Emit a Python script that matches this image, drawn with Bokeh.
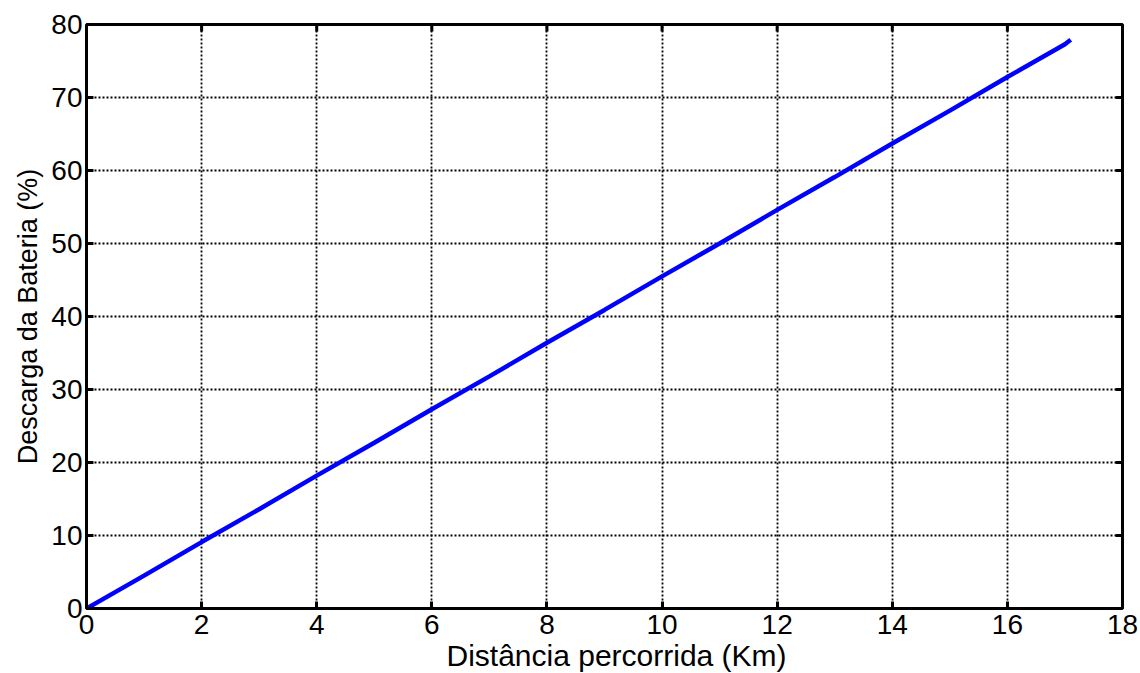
from bokeh.embed import file_html
from bokeh.models import FixedTicker, Range1d, Title
from bokeh.plotting import figure
from bokeh.resources import INLINE

# Battery discharge versus distance travelled
distance_km = [0, 1, 2, 3, 4, 5, 6, 7, 8, 9, 10, 11, 12, 13, 14, 15, 16, 17, 17.1]
discharge_pct = [0, 4.5, 9.1, 13.6, 18.2, 22.7, 27.3, 31.8, 36.4, 40.9, 45.5,
                 50.0, 54.6, 59.1, 63.7, 68.2, 72.8, 77.3, 77.9]

x_ticks = [0, 2, 4, 6, 8, 10, 12, 14, 16, 18]
y_ticks = [0, 10, 20, 30, 40, 50, 60, 70, 80]

X_MIN, X_MAX = 0, 18
Y_MIN, Y_MAX = 0, 80

FONT = "Liberation Sans"
TICK_SIZE = "28px"

p = figure(
    width=1140, height=673,
    x_range=Range1d(X_MIN, X_MAX), y_range=Range1d(Y_MIN, Y_MAX),
    output_backend="svg", toolbar_location=None,
    min_border_left=86, min_border_right=18,
    min_border_top=24, min_border_bottom=65,
    background_fill_color="white", border_fill_color="white",
    y_axis_label="Descarga da Bateria (%)",
)

p.outline_line_color = "black"
p.outline_line_width = 3

# main axes: inward ticks, frame drawn by the outline
for ax, ticks in ((p.xaxis[0], x_ticks), (p.yaxis[0], y_ticks)):
    ax.ticker = FixedTicker(ticks=ticks)
    ax.axis_line_color = None
    ax.major_tick_in = 7
    ax.major_tick_out = 0
    ax.major_tick_line_width = 3
    ax.major_tick_line_color = "black"
    ax.minor_tick_line_color = None
    ax.major_label_text_font = FONT
    ax.major_label_text_font_size = TICK_SIZE
    ax.major_label_text_color = "black"

p.xaxis[0].major_label_standoff = 6
p.yaxis[0].major_label_standoff = 4

yax = p.yaxis[0]
yax.axis_label_standoff = 5
yax.axis_label_text_font = FONT
yax.axis_label_text_font_size = "27px"
yax.axis_label_text_font_style = "normal"
yax.axis_label_text_color = "black"

# x-axis title, placed from the frame's left edge
p.add_layout(Title(
    text="Distância percorrida (Km)", align="left", offset=360, standoff=0,
    text_font=FONT, text_font_size="30px", text_font_style="normal",
    text_color="black",
), "below")

# mirrored inward ticks along the top and right edges
tick_dx = 0.12 * (X_MAX - X_MIN) / 18
tick_dy = 0.96 * (Y_MAX - Y_MIN) / 80
p.segment(x0=x_ticks, y0=[Y_MAX] * len(x_ticks),
          x1=x_ticks, y1=[Y_MAX - tick_dy] * len(x_ticks),
          line_color="black", line_width=3)
p.segment(x0=[X_MAX] * len(y_ticks), y0=y_ticks,
          x1=[X_MAX - tick_dx] * len(y_ticks), y1=y_ticks,
          line_color="black", line_width=3)

# dotted grid
for g in (p.xgrid[0], p.ygrid[0]):
    g.grid_line_color = "black"
    g.grid_line_width = 1.8
    g.grid_line_dash = "2 2"
p.xgrid[0].ticker = FixedTicker(ticks=x_ticks)
p.ygrid[0].ticker = FixedTicker(ticks=y_ticks)

p.line(distance_km, discharge_pct, line_color="#0000FF", line_width=4.5)

open("out.html", "w").write(file_html(p, INLINE))
